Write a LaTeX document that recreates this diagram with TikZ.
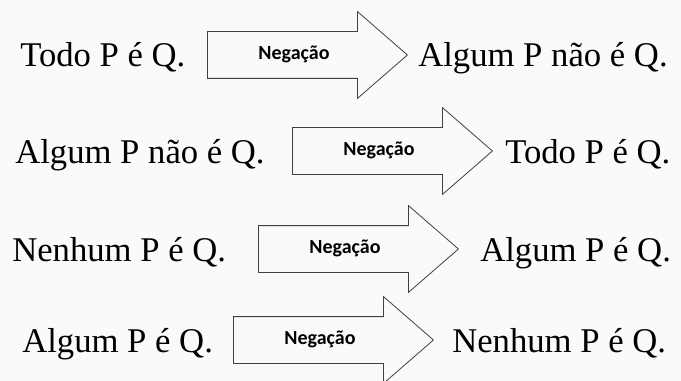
\documentclass[tikz,border=0pt]{standalone}
\usepackage{fontspec}
\setmainfont{Liberation Serif}
\newfontfamily\rotulofont{Carlito}
\usetikzlibrary{shapes.arrows}

\tikzset{
  frase/.style={font=\fontsize{26}{30}\selectfont, inner sep=0pt, anchor=base west},
  seta/.style={single arrow, draw=black!75, line width=0.6pt,
    font=\rotulofont\bfseries\fontsize{15}{17}\selectfont,
    single arrow head extend=15pt, single arrow tip angle=82,
    minimum height=150pt, text height=10pt, text depth=3pt,
    inner ysep=10.75pt, inner xsep=2pt, anchor=tail}
}

\begin{document}
\begin{tikzpicture}[x=0.75pt,y=-0.75pt]
\fill[black!2] (0,0) rectangle (681,381);
\useasboundingbox (0,0) rectangle (681,381);
% linha 1
\node[frase] (a1) at (20,67) {Todo P é Q.};
\node[seta] (s1) at (207,55) {Negação};
\node[frase] (b1) at (418,67) {Algum P não é Q.};
% linha 2
\node[frase] (a2) at (15,163) {Algum P não é Q.};
\node[seta] (s2) at (292,151) {Negação};
\node[frase] (b2) at (505,163) {Todo P é Q.};
% linha 3
\node[frase] (a3) at (12,261) {Nenhum P é Q.};
\node[seta] (s3) at (258,249) {Negação};
\node[frase] (b3) at (480,261) {Algum P é Q.};
% linha 4
\node[frase] (a4) at (22,352) {Algum P é Q.};
\node[seta] (s4) at (233,340) {Negação};
\node[frase] (b4) at (452,352) {Nenhum P é Q.};
\end{tikzpicture}
\end{document}
